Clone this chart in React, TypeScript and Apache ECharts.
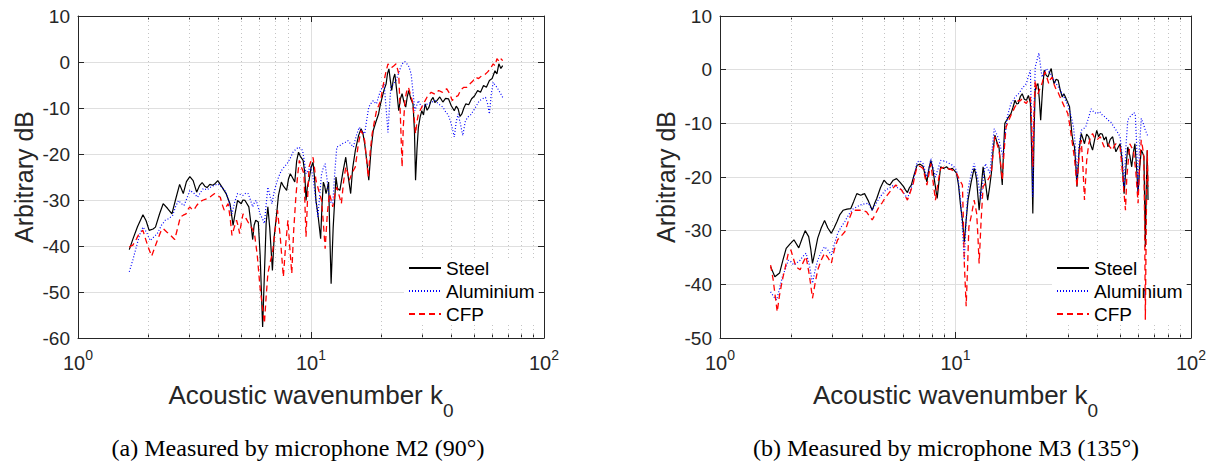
import React, { useEffect, useRef } from "react";
import * as echarts from "echarts";

// ---------- data (k0, dB) ----------
const steelA = [[1.66,-40.8],[1.72,-38.5],[1.80,-35.8],[1.90,-33.2],[1.96,-34.5],[2.02,-36.6],[2.10,-36.3],[2.15,-35.9],[2.24,-33.0],[2.32,-30.8],[2.42,-31.8],[2.53,-33.0],[2.62,-30.0],[2.73,-26.6],[2.83,-28.6],[2.92,-26.0],[3.02,-24.9],[3.12,-25.8],[3.23,-28.3],[3.33,-26.8],[3.41,-26.2],[3.50,-27.0],[3.58,-27.3],[3.68,-26.6],[3.79,-26.8],[3.88,-26.4],[3.98,-25.8],[4.15,-27.2],[4.32,-28.6],[4.49,-30.8],[4.63,-35.5],[4.72,-33.0],[4.84,-30.1],[5.02,-30.8],[5.10,-30.0],[5.21,-30.1],[5.41,-31.5],[5.52,-35.0],[5.62,-38.6],[5.70,-35.5],[5.79,-34.4],[5.94,-34.8],[6.05,-42.0],[6.20,-57.6],[6.32,-45.0],[6.42,-35.0],[6.53,-31.5],[6.65,-36.0],[6.83,-45.3],[6.95,-38.0],[7.10,-33.7],[7.25,-29.0],[7.46,-26.1],[7.62,-27.0],[7.86,-27.9],[8.00,-25.5],[8.15,-24.3],[8.30,-25.0],[8.52,-26.1],[8.68,-21.5],[8.84,-19.6],[9.0,-20.5],[9.25,-21.4],[9.40,-24.0],[9.52,-30.1],[9.65,-27.0],[9.81,-25.7],[10.0,-23.0],[10.2,-21.8],[10.35,-25.0],[10.5,-30.1],[10.7,-33.0],[11.0,-38.4],[11.15,-31.0],[11.3,-26.1],[11.45,-27.0],[11.6,-28.6],[11.75,-27.5],[11.9,-26.1],[12.05,-38.0],[12.2,-48.2],[12.45,-36.0],[12.8,-25.0],[13.0,-27.5],[13.3,-27.9],[13.7,-24.0],[14.1,-20.7],[14.4,-24.5],[14.8,-28.6],[15.1,-23.0],[15.5,-19.2],[16.0,-16.0],[16.4,-14.5],[16.7,-15.5],[17.0,-17.8],[17.4,-22.0],[17.7,-25.7],[18.1,-19.0],[18.5,-14.9],[19.0,-13.0],[19.5,-11.3],[19.8,-9.5],[20.2,-7.7],[20.6,-6.0],[21.0,-4.8],[21.3,-2.5],[21.6,-1.5],[21.9,-4.0],[22.2,-6.2],[22.6,-3.5],[22.9,-2.6],[23.3,-6.0],[23.8,-10.6],[24.2,-8.0],[24.6,-6.9],[25.0,-8.5],[25.5,-9.8],[25.9,-7.5],[26.3,-6.2],[26.8,-8.0],[27.4,-9.1],[27.8,-15.0],[28.1,-25.7],[28.5,-19.0],[28.9,-14.2],[29.4,-12.0],[29.9,-10.6],[30.4,-11.5],[30.9,-9.1],[31.5,-10.5],[32.1,-9.8],[32.8,-8.3],[33.4,-7.7],[34.0,-8.8],[34.7,-8.4],[35.7,-7.6],[36.8,-8.7],[37.8,-7.9],[38.9,-8.0],[40.0,-9.5],[41.2,-10.6],[42.0,-9.6],[42.8,-10.2],[43.6,-11.8],[44.4,-11.3],[45.3,-10.0],[46.2,-9.1],[47.5,-9.3],[48.9,-8.0],[50.3,-7.4],[51.9,-6.2],[53.4,-6.6],[55.0,-5.1],[56.6,-5.5],[58.3,-4.0],[59.9,-3.6],[61.6,-1.9],[62.8,-2.6],[64.0,-0.4],[65.3,-1.4],[66.5,-0.8]];

const aluA = [[1.66,-45.6],[1.72,-43.0],[1.78,-40.2],[1.84,-37.5],[1.90,-35.9],[1.97,-37.0],[2.04,-38.8],[2.12,-38.0],[2.19,-37.3],[2.28,-35.5],[2.37,-34.4],[2.46,-34.0],[2.55,-33.3],[2.62,-31.5],[2.70,-30.1],[2.78,-30.8],[2.85,-31.2],[2.94,-29.5],[3.02,-27.9],[3.14,-28.5],[3.26,-29.4],[3.36,-28.3],[3.45,-27.5],[3.58,-27.8],[3.71,-27.2],[3.85,-26.8],[4.0,-26.5],[4.16,-27.3],[4.32,-28.3],[4.45,-30.5],[4.58,-33.0],[4.70,-30.5],[4.84,-28.6],[4.98,-28.8],[5.11,-29.0],[5.25,-28.5],[5.37,-28.6],[5.50,-30.0],[5.62,-31.5],[5.72,-30.5],[5.82,-30.1],[5.93,-31.5],[6.04,-33.0],[6.18,-34.0],[6.31,-35.1],[6.42,-31.0],[6.53,-27.2],[6.66,-29.0],[6.80,-30.8],[6.93,-28.5],[7.07,-26.8],[7.26,-25.0],[7.46,-23.6],[7.68,-22.8],[7.90,-22.1],[8.13,-21.0],[8.37,-19.6],[8.60,-19.0],[8.84,-18.5],[9.02,-18.8],[9.20,-19.2],[9.36,-21.5],[9.52,-24.3],[9.75,-23.5],[9.97,-22.8],[10.2,-25.0],[10.4,-28.6],[10.55,-31.0],[10.7,-33.7],[10.9,-29.0],[11.1,-24.3],[11.3,-23.0],[11.5,-22.1],[11.75,-26.0],[12.0,-30.1],[12.2,-30.5],[12.4,-30.8],[12.65,-24.0],[12.9,-18.5],[13.25,-18.2],[13.6,-17.8],[14.0,-17.5],[14.4,-17.1],[14.8,-17.8],[15.2,-18.5],[15.65,-16.0],[16.1,-14.2],[16.55,-15.0],[17.0,-15.6],[17.35,-12.5],[17.7,-9.8],[18.1,-9.0],[18.5,-8.4],[18.8,-8.8],[19.1,-9.1],[19.5,-7.5],[19.9,-6.2],[20.25,-5.5],[20.6,-4.8],[21.0,-10.0],[21.4,-15.3],[21.7,-10.0],[22.0,-5.5],[22.6,-4.8],[23.2,-4.0],[23.9,-2.0],[24.6,-0.4],[25.3,0.1],[25.8,-0.4],[26.2,-0.8],[26.5,-1.5],[26.9,-2.6],[27.4,-6.5],[27.9,-10.6],[28.4,-9.5],[28.9,-8.4],[29.4,-9.2],[29.9,-9.8],[30.7,-9.5],[31.6,-9.1],[32.8,-8.8],[34.1,-8.4],[35.4,-9.2],[36.8,-9.8],[37.8,-10.8],[38.9,-11.6],[40.0,-13.5],[41.2,-16.3],[42.0,-13.0],[42.8,-11.3],[43.8,-13.5],[44.8,-16.0],[45.9,-13.0],[47.0,-12.0],[48.4,-11.5],[49.8,-10.6],[51.3,-9.5],[52.8,-8.4],[54.4,-8.0],[56.1,-7.7],[57.2,-9.0],[58.3,-11.3],[59.4,-7.0],[60.5,-4.4],[61.6,-5.0],[62.8,-5.5],[64.0,-6.2],[65.2,-6.9],[66.5,-7.7]];

const cfpA = [[1.66,-40.2],[1.72,-39.8],[1.78,-38.5],[1.83,-37.3],[1.90,-36.6],[1.95,-38.5],[2.0,-40.2],[2.07,-42.2],[2.13,-40.5],[2.19,-38.8],[2.26,-37.0],[2.32,-36.2],[2.41,-37.0],[2.50,-37.7],[2.60,-38.6],[2.68,-36.0],[2.75,-33.7],[2.83,-33.3],[2.91,-33.0],[2.97,-32.0],[3.02,-31.5],[3.08,-32.0],[3.14,-32.2],[3.23,-31.2],[3.33,-30.4],[3.45,-30.0],[3.58,-29.7],[3.72,-29.2],[3.86,-28.6],[3.97,-29.0],[4.08,-29.4],[4.16,-31.0],[4.24,-32.2],[4.32,-31.5],[4.41,-30.8],[4.50,-34.0],[4.58,-37.7],[4.68,-36.0],[4.79,-34.4],[4.86,-35.5],[4.94,-37.3],[5.02,-35.0],[5.11,-33.0],[5.26,-34.0],[5.41,-35.1],[5.56,-36.0],[5.72,-37.3],[5.88,-42.0],[6.04,-48.9],[6.18,-53.0],[6.31,-56.8],[6.42,-51.0],[6.53,-46.0],[6.68,-43.5],[6.83,-41.6],[7.0,-37.0],[7.18,-32.2],[7.38,-38.0],[7.61,-46.7],[7.78,-40.0],[7.96,-34.4],[8.10,-40.0],[8.27,-46.0],[8.42,-37.0],[8.59,-30.1],[8.75,-25.0],[8.91,-21.4],[9.12,-23.0],[9.33,-24.3],[9.42,-31.0],[9.52,-38.0],[9.66,-30.0],[9.81,-22.8],[10.0,-21.5],[10.2,-20.7],[10.35,-23.0],[10.5,-25.7],[10.8,-28.0],[11.1,-30.1],[11.3,-35.0],[11.5,-40.6],[11.75,-33.0],[12.0,-28.6],[12.2,-30.0],[12.4,-31.5],[12.65,-29.0],[12.9,-27.2],[13.2,-29.0],[13.5,-30.8],[13.8,-26.0],[14.1,-22.8],[14.35,-24.0],[14.6,-25.7],[15.05,-24.0],[15.5,-22.8],[15.95,-18.0],[16.4,-14.9],[16.7,-15.8],[17.0,-17.1],[17.3,-21.0],[17.6,-25.0],[17.95,-19.5],[18.3,-15.6],[18.7,-13.0],[19.1,-10.6],[19.5,-9.5],[19.9,-8.4],[20.25,-6.0],[20.6,-4.0],[21.0,-2.0],[21.4,-0.4],[21.8,-1.0],[22.2,-1.2],[22.7,-0.8],[23.2,-0.4],[23.5,-1.5],[23.8,-2.6],[24.2,-12.0],[24.6,-22.8],[24.9,-14.0],[25.3,-8.4],[25.7,-6.5],[26.2,-5.5],[26.7,-7.0],[27.2,-8.4],[27.6,-11.0],[28.1,-15.6],[28.5,-13.0],[28.9,-11.3],[29.4,-10.5],[29.9,-9.8],[30.4,-9.0],[30.9,-8.4],[31.8,-7.2],[32.8,-6.6],[34.0,-7.0],[35.3,-6.2],[36.7,-6.6],[38.2,-5.8],[39.3,-6.8],[40.4,-8.4],[41.6,-7.6],[42.8,-7.3],[44.0,-6.0],[45.3,-5.5],[46.6,-5.5],[48.0,-4.8],[49.4,-4.2],[50.9,-3.3],[52.4,-3.6],[54.0,-3.0],[55.6,-2.8],[57.2,-2.2],[58.8,-1.5],[60.5,-0.4],[61.6,-0.8],[62.8,0.7],[63.8,0.3],[64.7,0.9],[65.6,0.6],[66.5,0.3]];

const steelB = [[1.64,-36.7],[1.71,-38.6],[1.79,-37.9],[1.85,-35.5],[1.91,-33.3],[1.98,-32.5],[2.06,-31.7],[2.16,-33.2],[2.23,-31.5],[2.30,-30.0],[2.38,-31.1],[2.43,-33.5],[2.47,-36.1],[2.53,-34.0],[2.60,-31.4],[2.69,-29.5],[2.78,-28.1],[2.87,-29.5],[2.97,-30.5],[3.05,-29.5],[3.14,-28.3],[3.23,-27.0],[3.33,-26.2],[3.46,-26.0],[3.59,-25.9],[3.70,-24.5],[3.81,-23.1],[3.96,-23.4],[4.11,-23.1],[4.27,-24.5],[4.43,-26.2],[4.53,-25.0],[4.63,-24.0],[4.80,-22.0],[4.97,-20.6],[5.11,-21.2],[5.26,-21.5],[5.44,-20.6],[5.62,-20.3],[5.82,-21.0],[6.02,-21.8],[6.13,-22.4],[6.25,-22.9],[6.37,-22.0],[6.49,-21.5],[6.68,-19.5],[6.87,-17.8],[7.07,-17.6],[7.28,-18.0],[7.42,-19.5],[7.56,-20.9],[7.71,-18.5],[7.86,-16.9],[8.01,-18.5],[8.16,-20.9],[8.26,-22.5],[8.36,-24.0],[8.50,-21.0],[8.65,-18.1],[8.90,-18.4],[9.16,-18.1],[9.42,-18.6],[9.70,-18.4],[9.90,-18.8],[10.1,-19.3],[10.3,-21.5],[10.5,-25.2],[10.7,-28.0],[10.9,-32.1],[11.1,-28.0],[11.3,-24.3],[11.65,-21.0],[12.0,-18.4],[12.15,-19.2],[12.3,-20.6],[12.45,-23.5],[12.6,-26.2],[12.85,-22.0],[13.1,-18.1],[13.4,-21.0],[13.7,-24.3],[13.95,-22.0],[14.2,-19.3],[14.45,-15.0],[14.7,-12.2],[15.0,-13.5],[15.3,-14.4],[15.55,-18.0],[15.8,-21.5],[16.0,-15.0],[16.2,-10.0],[16.7,-9.0],[17.2,-8.2],[17.55,-7.0],[17.9,-5.7],[18.2,-6.4],[18.5,-6.3],[18.85,-5.0],[19.2,-4.5],[19.6,-5.5],[20.0,-5.7],[20.4,-4.8],[20.8,-6.3],[21.05,-15.0],[21.3,-26.8],[21.55,-12.0],[21.8,-3.8],[22.1,-3.0],[22.4,-2.6],[22.7,-5.5],[23.0,-9.4],[23.4,-4.0],[23.8,-0.1],[24.25,-1.0],[24.7,-1.4],[25.1,-0.5],[25.5,0.2],[25.85,-1.5],[26.2,-2.6],[26.75,-1.8],[27.3,-2.0],[27.85,-3.8],[28.4,-5.1],[28.85,-4.5],[29.3,-5.1],[29.9,-6.0],[30.5,-6.9],[30.85,-9.5],[31.2,-11.9],[31.6,-13.5],[32.0,-14.4],[32.4,-17.5],[32.8,-21.8],[33.5,-15.0],[34.2,-11.9],[34.75,-12.8],[35.3,-13.8],[36.05,-12.0],[36.8,-12.5],[37.5,-14.0],[38.2,-15.0],[39.0,-13.0],[39.8,-11.3],[40.5,-12.5],[41.2,-11.9],[42.0,-12.0],[42.8,-13.1],[43.6,-12.5],[44.4,-14.4],[45.4,-13.0],[46.5,-12.5],[47.2,-14.0],[48.0,-15.3],[49.0,-14.5],[50.0,-13.8],[51.0,-17.0],[52.0,-23.1],[53.0,-18.0],[53.9,-14.4],[55.0,-16.0],[56.0,-18.1],[56.9,-15.5],[57.8,-13.8],[58.7,-18.0],[59.6,-23.1],[60.5,-18.5],[61.5,-15.0],[62.3,-15.5],[63.1,-16.2],[63.6,-25.0],[64.0,-33.0],[64.6,-22.0],[65.2,-15.0],[65.7,-24.3]];

const aluB = [[1.64,-41.4],[1.69,-42.3],[1.74,-42.9],[1.79,-40.8],[1.84,-38.6],[1.90,-37.0],[1.95,-35.5],[2.0,-35.8],[2.06,-36.4],[2.12,-36.0],[2.19,-35.5],[2.25,-34.8],[2.32,-34.2],[2.40,-36.5],[2.47,-39.8],[2.53,-37.5],[2.60,-35.5],[2.69,-34.0],[2.78,-33.0],[2.87,-33.6],[2.97,-34.5],[3.06,-32.5],[3.16,-30.5],[3.27,-29.3],[3.39,-28.3],[3.52,-27.0],[3.66,-26.0],[3.80,-25.6],[3.95,-25.2],[4.11,-25.0],[4.27,-24.9],[4.35,-25.6],[4.43,-26.2],[4.56,-25.2],[4.69,-24.3],[4.88,-23.2],[5.07,-22.4],[5.27,-22.0],[5.47,-21.5],[5.68,-22.0],[5.90,-22.4],[6.07,-23.2],[6.25,-24.0],[6.43,-22.5],[6.62,-20.9],[6.74,-19.0],[6.87,-17.2],[7.07,-17.0],[7.28,-17.5],[7.42,-18.8],[7.56,-20.0],[7.71,-18.3],[7.86,-16.6],[8.04,-18.3],[8.22,-20.0],[8.43,-18.5],[8.65,-16.9],[8.90,-17.0],[9.16,-17.2],[9.43,-17.5],[9.70,-17.8],[9.90,-18.2],[10.1,-18.7],[10.3,-21.0],[10.5,-24.3],[10.7,-29.5],[10.9,-35.5],[11.1,-28.0],[11.3,-22.4],[11.65,-19.5],[12.0,-17.5],[12.2,-18.8],[12.4,-20.0],[12.6,-22.0],[12.8,-24.3],[13.1,-20.5],[13.4,-17.5],[13.7,-18.5],[14.0,-19.3],[14.3,-15.0],[14.6,-11.0],[14.95,-12.0],[15.3,-13.1],[15.6,-14.8],[15.9,-16.2],[16.25,-12.0],[16.6,-8.8],[16.9,-7.5],[17.2,-6.3],[17.55,-5.8],[17.9,-5.1],[18.2,-4.8],[18.5,-4.5],[18.85,-4.0],[19.2,-3.5],[19.6,-3.0],[20.0,-2.6],[20.4,-1.2],[20.8,-0.1],[21.05,-10.0],[21.3,-23.7],[21.55,-8.0],[21.8,0.5],[22.2,1.8],[22.6,3.1],[22.95,0.8],[23.3,-1.4],[23.8,-0.5],[24.3,0.2],[24.8,-0.3],[25.3,-0.7],[25.75,-1.3],[26.2,-2.0],[26.75,-2.6],[27.3,-3.2],[27.85,-3.8],[28.4,-4.5],[28.85,-5.0],[29.3,-5.7],[29.9,-6.5],[30.5,-7.6],[31.1,-9.0],[31.7,-10.7],[32.25,-14.0],[32.8,-20.6],[33.5,-14.0],[34.2,-11.3],[34.95,-11.0],[35.7,-10.7],[36.7,-9.0],[37.7,-7.3],[38.7,-7.9],[39.8,-8.2],[40.9,-7.8],[42.1,-8.5],[43.2,-8.8],[44.4,-9.4],[45.7,-9.8],[47.1,-10.7],[48.5,-11.5],[50.0,-12.5],[51.0,-16.0],[52.0,-21.8],[53.0,-14.0],[53.9,-9.4],[55.0,-8.8],[56.0,-8.5],[57.0,-8.0],[58.0,-8.2],[58.8,-14.0],[59.6,-23.1],[60.5,-14.0],[61.5,-9.1],[62.7,-10.0],[64.0,-11.3],[64.8,-11.8],[65.7,-12.5]];

const cfpB = [[1.64,-36.4],[1.68,-39.0],[1.71,-41.7],[1.75,-45.1],[1.79,-42.0],[1.84,-39.2],[1.90,-36.5],[1.95,-34.2],[2.0,-33.6],[2.05,-35.2],[2.10,-36.7],[2.19,-37.3],[2.25,-36.0],[2.32,-34.8],[2.40,-38.5],[2.47,-42.6],[2.53,-40.0],[2.60,-37.3],[2.69,-35.5],[2.78,-34.2],[2.87,-35.0],[2.97,-36.1],[3.06,-33.5],[3.16,-31.7],[3.27,-31.0],[3.39,-30.2],[3.52,-28.0],[3.66,-26.2],[3.80,-26.2],[3.95,-26.2],[4.07,-26.3],[4.19,-26.5],[4.31,-27.3],[4.43,-28.0],[4.56,-27.0],[4.69,-25.9],[4.88,-24.8],[5.07,-23.7],[5.32,-22.5],[5.58,-21.5],[5.74,-22.0],[5.90,-22.4],[6.07,-23.3],[6.25,-24.3],[6.43,-22.8],[6.62,-21.2],[6.74,-19.5],[6.87,-18.1],[7.07,-18.0],[7.28,-18.4],[7.42,-20.0],[7.56,-21.5],[7.71,-19.5],[7.86,-17.5],[8.04,-21.0],[8.22,-24.3],[8.43,-21.0],[8.65,-18.4],[8.90,-18.2],[9.16,-18.4],[9.43,-18.5],[9.70,-18.7],[9.90,-19.0],[10.1,-19.3],[10.4,-20.5],[10.7,-21.5],[10.8,-28.0],[10.9,-36.1],[11.0,-40.0],[11.1,-44.1],[11.25,-37.0],[11.4,-29.3],[11.7,-27.0],[12.0,-24.3],[12.15,-25.5],[12.3,-26.8],[12.45,-31.0],[12.6,-36.1],[12.85,-28.0],[13.1,-21.8],[13.4,-21.2],[13.7,-20.6],[13.95,-20.0],[14.2,-19.3],[14.45,-15.5],[14.7,-12.5],[15.0,-13.8],[15.3,-15.0],[15.55,-17.5],[15.8,-20.6],[16.1,-15.0],[16.4,-10.7],[16.8,-9.5],[17.2,-8.5],[17.55,-7.7],[17.9,-6.9],[18.2,-6.5],[18.5,-5.7],[18.85,-5.8],[19.2,-5.4],[19.6,-6.0],[20.0,-6.3],[20.4,-5.5],[20.8,-5.1],[21.05,-10.0],[21.3,-18.1],[21.55,-8.0],[21.8,-2.0],[22.1,-3.5],[22.4,-4.5],[22.85,-3.5],[23.3,-2.6],[23.65,-1.5],[24.0,-0.4],[24.45,-1.5],[24.9,-2.6],[25.3,-1.8],[25.7,-1.4],[26.25,-2.8],[26.8,-3.8],[27.3,-4.3],[27.8,-5.1],[28.4,-6.0],[29.0,-6.9],[29.5,-7.5],[30.0,-8.2],[30.6,-10.5],[31.2,-13.1],[32.0,-16.5],[32.8,-21.8],[33.5,-16.0],[34.2,-13.1],[34.75,-18.0],[35.3,-24.3],[36.05,-17.0],[36.8,-13.8],[37.5,-12.5],[38.2,-11.9],[39.0,-12.8],[39.8,-13.1],[40.5,-12.8],[41.2,-12.5],[42.0,-13.5],[42.8,-14.4],[43.6,-14.0],[44.4,-13.8],[45.4,-14.5],[46.5,-15.0],[47.2,-14.2],[48.0,-13.8],[49.0,-14.0],[50.0,-14.4],[51.0,-18.5],[52.0,-23.1],[52.7,-26.2],[53.4,-20.0],[55.0,-13.8],[56.0,-14.5],[57.0,-15.0],[58.3,-19.0],[59.6,-24.9],[60.5,-18.0],[61.5,-13.1],[62.3,-14.5],[63.1,-16.2],[63.6,-30.0],[64.0,-46.6],[64.6,-28.0],[65.2,-15.0],[65.7,-21.8]];

const seriesNames = ["Steel", "Aluminium", "CFP"];
const minorTicks = [2, 3, 4, 5, 6, 7, 8, 9, 20, 30, 40, 50, 60, 70, 80, 90];
const yRangeA = [-60, 10];
const yRangeB = [-50, 10];
const captions = ["(a) Measured by microphone M2 (90°)", "(b) Measured by microphone M3 (135°)"];
const xTitle = "Acoustic wavenumber k";
const xTitleSub = "0";
const yTitle = "Arbitrary dB";

// ---------- styles ----------
const FONT = '"Liberation Sans", Arial, Helvetica, sans-serif';
const TXT = "#262626";
const GRIDC = "#dfdfdf";
const MINORC = "#c4c4c4";
const styles = [
  { color: "#000000", type: "solid" as any, width: 1.2 },
  { color: "#0000ff", type: [1, 2] as any, width: 1.2 },
  { color: "#ff0000", type: [6, 4] as any, width: 1.3 },
];

function makeX(gi: number) {
  const base = { type: "log", logBase: 10, min: 1, max: 100, gridIndex: gi };
  return [
    {
      ...base,
      position: "bottom",
      axisLine: { show: true, onZero: false, lineStyle: { color: TXT, width: 1 } },
      axisTick: { show: true, inside: true, length: 6, lineStyle: { color: TXT } },
      axisLabel: {
        margin: 10,
        formatter: (v: number) => "{b|10}{s|" + Math.round(Math.log10(v)) + "}",
        rich: {
          b: { fontSize: 20, lineHeight: 25, verticalAlign: "bottom", fontFamily: FONT, color: TXT },
          s: { fontSize: 14, lineHeight: 14, verticalAlign: "top", fontFamily: FONT, color: TXT },
        },
      },
      splitLine: { show: true, lineStyle: { color: GRIDC, width: 1 } },
      name: "{b|" + xTitle + "}{s|" + xTitleSub + "}",
      nameLocation: "middle",
      nameGap: 44,
      nameTextStyle: {
        rich: {
          b: { fontSize: 26, lineHeight: 38, verticalAlign: "top", fontFamily: FONT, color: TXT },
          s: { fontSize: 19, lineHeight: 19, verticalAlign: "bottom", fontFamily: FONT, color: TXT },
        },
      },
    },
    {
      ...base,
      position: "bottom",
      axisLine: { show: false, onZero: false },
      axisTick: { show: true, inside: true, length: 3.5, customValues: minorTicks, lineStyle: { color: TXT } },
      axisLabel: { show: false },
      splitLine: { show: false },
    },
    {
      ...base,
      position: "top",
      axisLine: { show: true, onZero: false, lineStyle: { color: TXT, width: 1 } },
      axisTick: { show: true, inside: true, length: 6, lineStyle: { color: TXT } },
      axisLabel: { show: false },
      splitLine: { show: false },
    },
    {
      ...base,
      position: "top",
      axisLine: { show: false, onZero: false },
      axisTick: { show: true, inside: true, length: 3.5, customValues: minorTicks, lineStyle: { color: TXT } },
      axisLabel: { show: false },
      splitLine: { show: false },
    },
  ];
}

function makeY(gi: number, range: number[]) {
  const base = { type: "value", min: range[0], max: range[1], interval: 10, gridIndex: gi };
  return [
    {
      ...base,
      position: "left",
      axisLine: { show: true, onZero: false, lineStyle: { color: TXT, width: 1 } },
      axisTick: { show: true, inside: true, length: 6, lineStyle: { color: TXT } },
      axisLabel: { fontSize: 19, margin: 8, color: TXT, fontFamily: FONT },
      splitLine: { show: true, lineStyle: { color: GRIDC, width: 1 } },
      name: yTitle,
      nameLocation: "middle",
      nameGap: 42,
      nameTextStyle: { fontSize: 25, color: TXT, fontFamily: FONT },
    },
    {
      ...base,
      position: "right",
      axisLine: { show: true, onZero: false, lineStyle: { color: TXT, width: 1 } },
      axisTick: { show: true, inside: true, length: 6, lineStyle: { color: TXT } },
      axisLabel: { show: false },
      splitLine: { show: false },
    },
  ];
}

function makeSeries(datasets: number[][][], xi: number, yi: number, ymin: number) {
  const out: any[] = [
    {
      type: "line",
      data: [[1, ymin]],
      xAxisIndex: xi,
      yAxisIndex: yi,
      symbol: "none",
      silent: true,
      lineStyle: { opacity: 0 },
      markLine: {
        silent: true,
        z: 1,
        symbol: ["none", "none"],
        label: { show: false },
        lineStyle: { type: [1, 3], color: MINORC, width: 1 },
        data: minorTicks.map((v) => ({ xAxis: v })),
      },
    },
  ];
  datasets.forEach((d, i) => {
    out.push({
      type: "line",
      name: seriesNames[i],
      data: d,
      xAxisIndex: xi,
      yAxisIndex: yi,
      symbol: "none",
      showSymbol: false,
      z: 3,
      itemStyle: { color: styles[i].color },
      lineStyle: { color: styles[i].color, type: styles[i].type, width: styles[i].width },
    });
  });
  return out;
}

function makeLegend(left: number) {
  return {
    data: seriesNames,
    orient: "vertical",
    left,
    top: 258,
    itemWidth: 32,
    itemHeight: 14,
    itemGap: 3,
    padding: [0, 4, 0, 4],
    backgroundColor: "#ffffff",
    z: 2,
    selectedMode: false,
    itemStyle: { opacity: 0 },
    lineStyle: { opacity: 1 },
    textStyle: { fontSize: 19, lineHeight: 20, color: "#000", fontFamily: FONT },
  };
}

export default function App() {
  const ref = useRef<HTMLDivElement>(null);
  useEffect(() => {
    if (!ref.current) return;
    const chart = echarts.init(ref.current, undefined, { renderer: "svg" });
    const option: any = {
      animation: false,
      backgroundColor: "#ffffff",
      grid: [
        { left: 78, top: 16, width: 466, height: 322 },
        { left: 720, top: 16, width: 471, height: 322 },
      ],
      xAxis: [...makeX(0), ...makeX(1)],
      yAxis: [...makeY(0, yRangeA), ...makeY(1, yRangeB)],
      legend: [makeLegend(404), makeLegend(1052)],
      series: [
        ...makeSeries([steelA, aluA, cfpA], 0, 0, yRangeA[0]),
        ...makeSeries([steelB, aluB, cfpB], 4, 2, yRangeB[0]),
      ],
      graphic: [
        {
          type: "text",
          x: 298,
          y: 448,
          style: { text: captions[0], align: "center", verticalAlign: "middle", fontSize: 24, fontFamily: '"Liberation Serif", serif', fill: "#000" },
        },
        {
          type: "text",
          x: 946,
          y: 448,
          style: { text: captions[1], align: "center", verticalAlign: "middle", fontSize: 24, fontFamily: '"Liberation Serif", serif', fill: "#000" },
        },
      ],
    };
    chart.setOption(option);
    return () => chart.dispose();
  }, []);
  return (
    <div
      ref={ref}
      style={{ position: "absolute", left: 0, top: 0, width: 1209, height: 461, background: "#fff" }}
    />
  );
}
